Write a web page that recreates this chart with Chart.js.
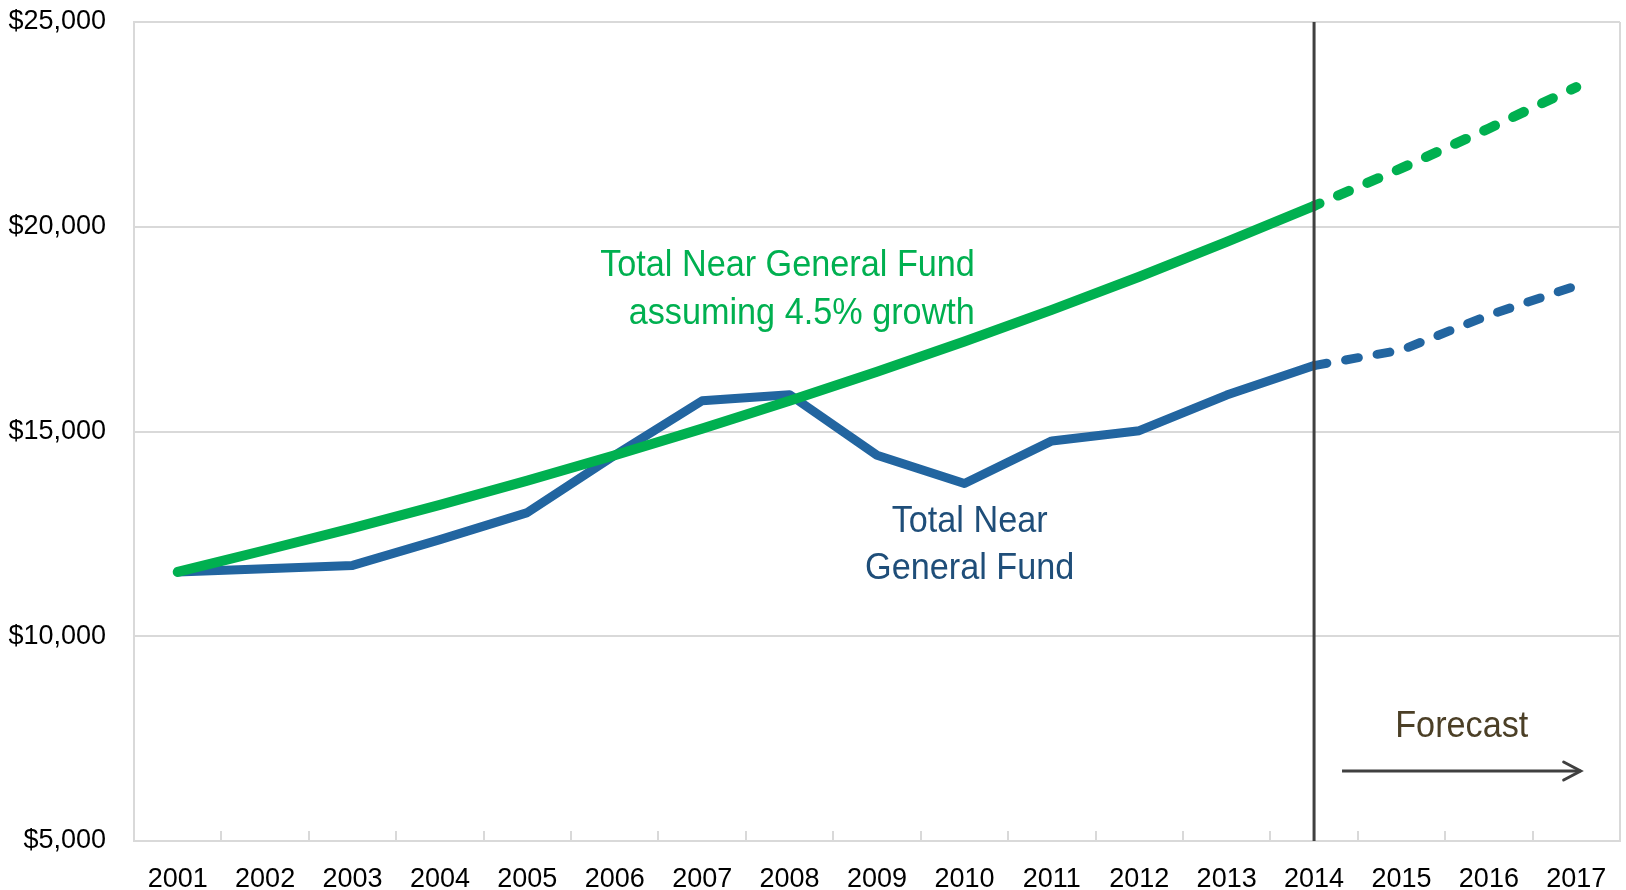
<!DOCTYPE html>
<html>
<head>
<meta charset="utf-8">
<script src="https://cdn.jsdelivr.net/npm/chart.js@4.4.1/dist/chart.umd.min.js"></script>
<style>
    body { margin: 0; background: #fff; }
    #wrap { width: 1626px; height: 890px; }
</style>
</head>
<body>
<div id="wrap"><canvas id="mycanvas" width="1626" height="890"></canvas></div>
<script>
var years = ['2001', '2002', '2003', '2004', '2005', '2006', '2007', '2008', '2009',
    '2010', '2011', '2012', '2013', '2014', '2015', '2016', '2017'];
// Total Near General Fund (millions)
var nearFund = [11570, 11650, 11730, 12360, 13020, 14420, 15750, 15900, 14420,
    13730, 14770, 15020, 15890, 16610, 16990, 17840, 18560];
// Same fund assuming 4.5% growth
var growthFund = [11570, 12100, 12640, 13210, 13800, 14420, 15070, 15750, 16460,
    17200, 17970, 18780, 19630, 20510, 21430, 22400, 23410];
var yTicks = [5000, 10000, 15000, 20000, 25000];
var forecastStart = 13; // index of 2014

var FONT = "'Liberation Sans', Arial, sans-serif";

// text a bit narrower, like the original's narrow face
function narrowText(c, txt, x, y, align) {
    var squeeze = 0.925;
    var w = c.measureText(txt).width * squeeze;
    var left = align === 'right' ? x - w : (align === 'center' ? x - w / 2 : x);
    c.save();
    c.translate(left, y);
    c.scale(squeeze, 1);
    c.textAlign = 'left';
    c.fillText(txt, 0, 0);
    c.restore();
}

// extra drawing: box edge, category ticks, forecast line, notes
var overlay = {
    id: 'overlay',
    afterDatasetsDraw: function (chart) {
        var c = chart.ctx;
        var area = chart.chartArea;
        var xs = chart.scales.x;
        var ys = chart.scales.y;
        c.save();

        // right edge of plot box
        c.strokeStyle = '#d9d9d9';
        c.lineWidth = 2;
        c.beginPath();
        c.moveTo(area.right, area.top);
        c.lineTo(area.right, area.bottom);
        c.stroke();

        // small tick marks between categories
        for (var i = 1; i < years.length; i++) {
            var tx = Math.round(xs.getPixelForValue(i - 0.5));
            c.beginPath();
            c.moveTo(tx, area.bottom);
            c.lineTo(tx, area.bottom - 10);
            c.stroke();
        }

        // forecast divider
        var vx = xs.getPixelForValue(forecastStart);
        c.strokeStyle = '#404040';
        c.lineWidth = 3;
        c.beginPath();
        c.moveTo(vx, area.top);
        c.lineTo(vx, area.bottom);
        c.stroke();

        // forecast arrow
        var ay = ys.getPixelForValue(6710);
        var ax0 = xs.getPixelForValue(13.32);
        var ax1 = xs.getPixelForValue(16.05);
        c.beginPath();
        c.moveTo(ax0, ay);
        c.lineTo(ax1, ay);
        c.stroke();
        c.lineCap = 'round';
        c.beginPath();
        c.moveTo(ax1 - 17, ay - 9);
        c.lineTo(ax1, ay);
        c.lineTo(ax1 - 17, ay + 9);
        c.stroke();

        c.textBaseline = 'middle';
        c.font = '37px ' + FONT;

        c.fillStyle = '#4b3f26';
        narrowText(c, 'Forecast', xs.getPixelForValue(14.69), ys.getPixelForValue(7785), 'center');

        c.fillStyle = '#00b050';
        narrowText(c, 'Total Near General Fund', xs.getPixelForValue(9.12), ys.getPixelForValue(19040), 'right');
        narrowText(c, 'assuming 4.5% growth', xs.getPixelForValue(9.12), ys.getPixelForValue(17870), 'right');

        c.fillStyle = '#1f4e79';
        narrowText(c, 'Total Near', xs.getPixelForValue(9.06), ys.getPixelForValue(12790), 'center');
        narrowText(c, 'General Fund', xs.getPixelForValue(9.06), ys.getPixelForValue(11640), 'center');

        c.restore();
    }
};

var ctx = document.getElementById('mycanvas');

var lineGraph = new Chart(ctx, {
    type: 'line',
    data: {
        labels: years,
        datasets: [
            {
                label: 'Total Near General Fund assuming 4.5% growth',
                data: growthFund,
                borderColor: '#00b050',
                borderWidth: 10,
                borderCapStyle: 'round',
                borderJoinStyle: 'round',
                pointRadius: 0,
                tension: 0,
                segment: {
                    borderDash: function (s) { return s.p0DataIndex >= forecastStart ? [12, 20] : undefined; },
                    borderDashOffset: function (s) { return s.p0DataIndex >= forecastStart ? 6 : 0; }
                }
            },
            {
                label: 'Total Near General Fund',
                data: nearFund,
                borderColor: '#2265a0',
                borderWidth: 9,
                borderCapStyle: 'round',
                borderJoinStyle: 'round',
                pointRadius: 0,
                tension: 0,
                segment: {
                    borderDash: function (s) { return s.p0DataIndex >= forecastStart ? [13, 19] : undefined; }
                }
            }
        ]
    },
    options: {
        responsive: false,
        animation: false,
        layout: { padding: { left: 0, right: 6, top: 22, bottom: 0 } },
        plugins: {
            legend: { display: false },
            tooltip: { enabled: false }
        },
        scales: {
            x: {
                offset: true,
                grid: { display: false },
                border: { display: true, color: '#d9d9d9', width: 2 },
                ticks: {
                    color: '#000',
                    font: { family: FONT, size: 27 },
                    padding: 14,
                    maxRotation: 0,
                    autoSkip: false
                },
                afterFit: function (scale) {
                    scale.height = 49;
                    scale.paddingLeft = 0;
                    scale.paddingRight = 0;
                }
            },
            y: {
                min: 5000,
                max: 25000,
                grid: { color: '#d9d9d9', lineWidth: 2, drawTicks: false },
                border: { display: true, color: '#d9d9d9', width: 2 },
                afterBuildTicks: function (scale) {
                    scale.ticks = yTicks.map(function (v) { return { value: v }; });
                },
                ticks: {
                    color: '#000',
                    font: { family: FONT, size: 27 },
                    padding: 28,
                    callback: function (v) { return '$' + v.toLocaleString('en-US'); }
                },
                afterFit: function (scale) {
                    scale.width = 134;
                    scale.paddingTop = 0;
                    scale.paddingBottom = 0;
                }
            }
        }
    },
    plugins: [overlay]
});
</script>
</body>
</html>
